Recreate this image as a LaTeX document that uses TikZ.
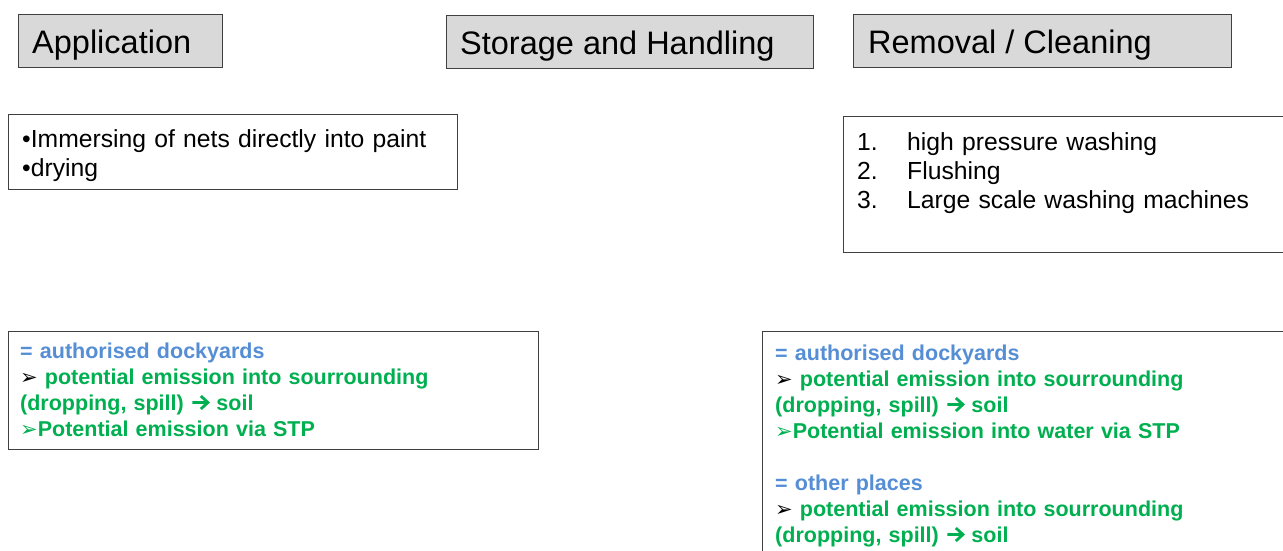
\documentclass[tikz,border=0pt]{standalone}
\usepackage{fontspec}
\setmainfont{Liberation Sans}
\newfontfamily\dejavu{DejaVu Sans}
\definecolor{hdrfill}{HTML}{D9D9D9}
\definecolor{edge}{HTML}{404040}
\definecolor{lblue}{HTML}{558ED5}
\definecolor{egreen}{HTML}{00B050}
\newcommand{\arrbul}[1]{{\color{#1}\dejavu\mdseries\fontsize{21}{21}\selectfont ➢}}
\newcommand{\thickarr}{\tikz[x=1pt,y=1pt,baseline=0pt]{\draw[egreen, line width=2.8pt, line join=miter, line cap=butt] (0,7.5) -- (15,7.5) (8.5,1) -- (15.5,7.5) -- (8.5,14);}}
\begin{document}
\begin{tikzpicture}[x=1pt,y=-1pt,
  hdrbox/.style={draw=edge, line width=1.2pt, fill=hdrfill, inner sep=0pt, anchor=north west},
  txtbox/.style={draw=edge, line width=1.2pt, fill=white, inner sep=0pt, anchor=north west},
  hdrtext/.style={anchor=base west, inner sep=0pt, font=\fontsize{32.5}{38}\selectfont},
  bodytext/.style={anchor=base west, inner sep=0pt, align=left, text width=440pt, font=\fontsize{24.7}{29}\selectfont},
  greentext/.style={anchor=base west, inner sep=0pt, align=left, text width=520pt, text=egreen, font=\bfseries\fontsize{21.5}{26}\selectfont}]
\useasboundingbox (0,0) rectangle (1283,550);
\clip (0,0) rectangle (1283,550);
% header boxes
\node[hdrbox, minimum width=204pt, minimum height=53pt] (appbox) at (18,14) {};
\node[hdrtext] (app) at (32,53) {Application};
\node[hdrbox, minimum width=367pt, minimum height=53pt] (storbox) at (446,15) {};
\node[hdrtext] (stor) at (460,54) {Storage and Handling};
\node[hdrbox, minimum width=378pt, minimum height=53pt] (rembox) at (853,14) {};
\node[hdrtext] (rem) at (868,53) {Removal / Cleaning};
% description boxes
\node[txtbox, minimum width=449pt, minimum height=75pt] (immbox) at (8,114) {};
\node[bodytext] (imm) at (22,147) {•Immersing of nets directly into paint\\•drying};
\node[txtbox, minimum width=460pt, minimum height=136pt] (washbox) at (843,116) {};
\node[bodytext] (wash) at (857,150) {\makebox[50pt][l]{1.}high pressure washing\\\makebox[50pt][l]{2.}Flushing\\\makebox[50pt][l]{3.}Large scale washing machines};
% emission boxes
\node[txtbox, minimum width=530pt, minimum height=118pt] (emlbox) at (8,331) {};
\node[greentext] (eml) at (20,358) {{\color{lblue}= authorised dockyards}\\
\arrbul{black} potential emission into sourrounding\\
(dropping, spill) \thickarr\ soil\\
\arrbul{egreen}Potential emission via STP};
\node[txtbox, minimum width=540pt, minimum height=240pt] (emrbox) at (762,331) {};
\node[greentext] (emr) at (775,360) {{\color{lblue}= authorised dockyards}\\
\arrbul{black} potential emission into sourrounding\\
(dropping, spill) \thickarr\ soil\\
\arrbul{egreen}Potential emission into water via STP\\[26pt]
{\color{lblue}= other places}\\
\arrbul{black} potential emission into sourrounding\\
(dropping, spill) \thickarr\ soil};
\end{tikzpicture}
\end{document}
